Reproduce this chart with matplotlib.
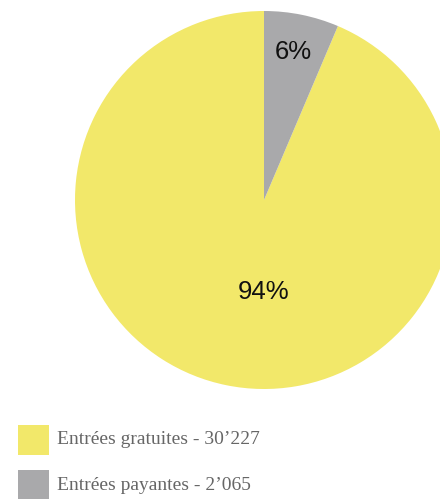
import matplotlib
matplotlib.use("Agg")
import matplotlib.pyplot as plt
from matplotlib.patches import Rectangle

categories = ["Entrées gratuites", "Entrées payantes"]
values = [30227, 2065]
legend_labels = ["Entrées gratuites - 30’227", "Entrées payantes - 2’065"]
colors = ["#F2E86A", "#A9A9AB"]

W, H = 440, 499
fig = plt.figure(figsize=(W / 100, H / 100), dpi=100)

cx, cy, r = 264, 200, 189
ax = fig.add_axes([(cx - r) / W, (H - cy - r) / H, 2 * r / W, 2 * r / H])

wedges, texts, autotexts = ax.pie(
    values, colors=colors, startangle=90, counterclock=True, radius=1,
    autopct=lambda p: f"{p:.0f}%", pctdistance=0.8,
    textprops=dict(fontsize=18.5, family="Liberation Sans", color="#111111"),
    wedgeprops=dict(linewidth=0),
)
ax.set_xlim(-1, 1)
ax.set_ylim(-1, 1)
ax.set_aspect("equal")
ax.axis("off")
for w in wedges:
    w.set_clip_on(False)
autotexts[0].set_position((0.0, -0.487))
autotexts[1].set_position((0.153, 0.783))
for t in autotexts:
    t.set_ha("center"); t.set_va("center")

rows_y = [440, 485]
for lab, col, yc in zip(legend_labels, colors, rows_y):
    fig.add_artist(Rectangle((18 / W, (H - yc - 15) / H), 31 / W, 30 / H,
                             transform=fig.transFigure, facecolor=col, edgecolor="none"))
    fig.text(57 / W, (H - yc) / H, lab, fontsize=14, family="Liberation Serif",
             color="#666666", ha="left", va="center")

fig.savefig("out.png", dpi=100)
